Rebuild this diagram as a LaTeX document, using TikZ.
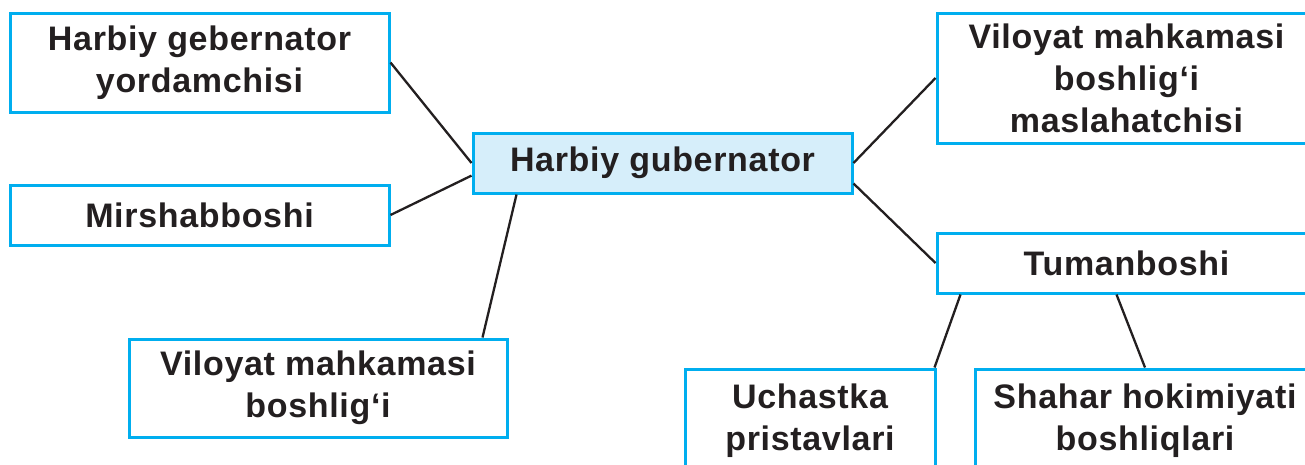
\documentclass[tikz,border=0pt]{standalone}
\usepackage{fontspec}
\setmainfont{Liberation Sans}[LetterSpace=2]
\usetikzlibrary{calc}
\definecolor{boxblue}{HTML}{00AEEF}
\definecolor{boxfill}{HTML}{D6EEFA}
\definecolor{txt}{HTML}{231F20}
\begin{document}
\begin{tikzpicture}[x=1pt,y=-1pt,
  box/.style={draw=boxblue,line width=3pt,fill=white,rectangle,inner sep=0pt,
    align=center,text=txt,font=\fontsize{34}{42}\selectfont\bfseries},
  link/.style={draw=txt,line width=2.3pt}]
\clip (0,0) rectangle (1305,464);
\fill[white] (0,0) rectangle (1305,464);
\node[box,minimum width=379pt,minimum height=99pt] (A) at (199.5,62.5) {Harbiy gebernator\\yordamchisi};
\node[box,minimum width=379pt,minimum height=60pt] (B) at (199.5,215) {Mirshabboshi};
\node[box,fill=boxfill,minimum width=379pt,minimum height=60pt] (H) at (662.5,163) {Harbiy gubernator};
\node[box,minimum width=378pt,minimum height=98pt] (C) at (318,388) {Viloyat mahkamasi\\boshlig‘i};
\node[box,minimum width=379pt,minimum height=130pt] (D) at (1126.5,78) {Viloyat mahkamasi\\boshlig‘i\\maslahatchisi};
\node[box,minimum width=379pt,minimum height=60pt] (E) at (1126.5,263) {Tumanboshi};
\node[box,minimum width=250pt,minimum height=104pt] (F) at (810,421) {Uchastka\\pristavlari};
\node[box,minimum width=340pt,minimum height=104pt] (G) at (1145,421) {Shahar hokimiyati\\boshliqlari};
\draw[link] (A.east) -- (H.west);
\draw[link] (B.east) -- ($(H.south west)!0.6!(H.west)$);
\draw[link] ($(C.north east)+(-26,0)$) -- ($(H.south west)+(45,0)$);
\draw[link] (H.east) -- (D.west);
\draw[link] ($(H.south east)+(0,-11)$) -- (E.west);
\draw[link] ($(E.south west)+(25,0)$) -- ($(F.north east)+(-2,0)$);
\draw[link] ($(E.south west)+(181,0)$) -- (G.north);
\end{tikzpicture}
\end{document}
